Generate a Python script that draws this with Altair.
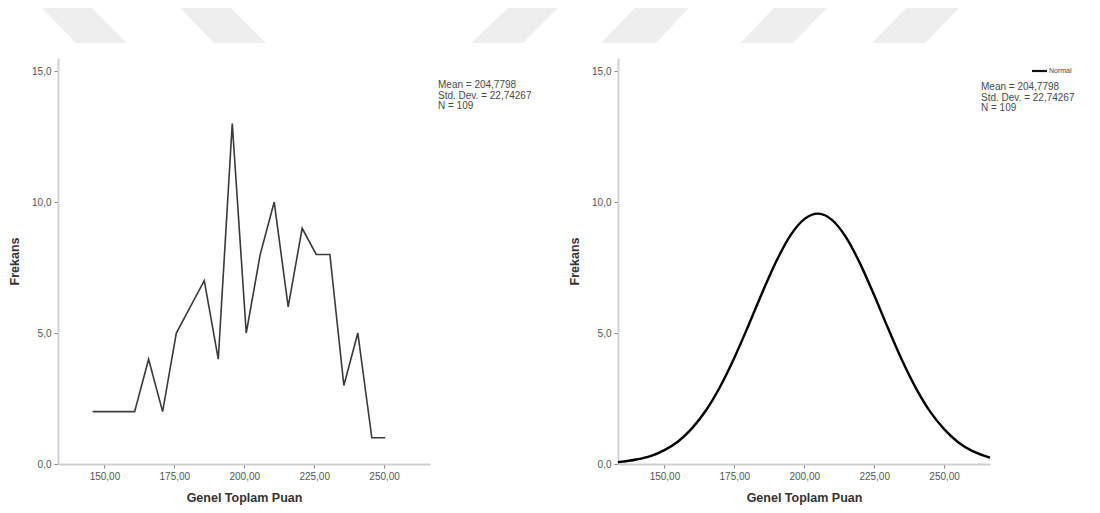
import altair as alt
import pandas as pd

# ---- data ----
score_points = [145.8, 150.8, 155.8, 160.8, 165.8, 170.8, 175.7, 180.7, 185.7, 190.7, 195.7,
                200.7, 205.7, 210.7, 215.7, 220.7, 225.7, 230.6, 235.6, 240.6, 245.6, 250.4]
frequencies = [2, 2, 2, 2, 4, 2, 5, 6, 7, 4, 13, 5, 8, 10, 6, 9, 8, 8, 3, 5, 1, 1]

curve_x = [133.4, 140, 145, 150, 155, 160, 165, 170, 175, 180, 185, 190, 195, 200, 205,
           210, 215, 220, 225, 230, 235, 240, 245, 250, 255, 260, 265, 266.4]
curve_y = [0.07, 0.17, 0.30, 0.53, 0.87, 1.38, 2.07, 2.97, 4.06, 5.28, 6.55, 7.74, 8.72, 9.35, 9.56,
           9.31, 8.64, 7.64, 6.44, 5.17, 3.95, 2.88, 2.00, 1.33, 0.83, 0.50, 0.29, 0.24]

x_ticks = [150, 175, 200, 225, 250]
y_ticks = [0, 5, 10, 15]
stats_text = ["Mean = 204,7798", "Std. Dev. = 22,74267", "N = 109"]
x_title = "Genel Toplam Puan"
y_title = "Frekans"
legend_label = "Normal"

# decorative watermark parallelograms (pixel offsets from the left panel's plot origin)
wm_shape = [1, 1, 2, 2, 3, 3, 4, 4, 5, 5, 6, 6]
wm_py = [-50, -15, -50, -15, -50, -15, -50, -15, -50, -15, -50, -15]
wm_xa = [-16, 18, 122, 156, 450, 413, 577, 543, 716, 682, 848, 814]
wm_xb = [34, 69, 173, 208, 500, 465, 631, 598, 769, 735, 901, 867]

FONT = "Liberation Sans"
X_DOMAIN = [133.4, 266.4]
Y_DOMAIN = [0, 15.5]
W, H = 372, 406

x_enc = alt.X("x:Q", scale=alt.Scale(domain=X_DOMAIN, nice=False, zero=False),
              axis=alt.Axis(values=x_ticks, title=x_title,
                            labelExpr="replace(format(datum.value, '.2f'), '.', ',')"))
y_enc = alt.Y("y:Q", scale=alt.Scale(domain=Y_DOMAIN, nice=False),
              axis=alt.Axis(values=y_ticks, title=y_title,
                            labelExpr="replace(format(datum.value, '.1f'), '.', ',')"))

hist_df = pd.DataFrame({"x": score_points, "y": frequencies})
curve_df = pd.DataFrame({"x": curve_x, "y": curve_y})
wm_df = pd.DataFrame({"shape": wm_shape, "py": wm_py, "xa": wm_xa, "xb": wm_xb})
text_df = pd.DataFrame({"t": ["\n".join(stats_text)]})
legend_df = pd.DataFrame({"t": [legend_label]})

watermark = alt.Chart(wm_df).mark_area(orient="horizontal", color="#eeeeee", clip=False).encode(
    y=alt.Y("py:Q", scale=None, axis=None),
    x=alt.X("xa:Q", scale=None, axis=None),
    x2="xb:Q",
    detail="shape:N",
)

freq_line = alt.Chart(hist_df).mark_line(color="#3a3a3a", strokeWidth=1.6).encode(x=x_enc, y=y_enc)

stats_left = alt.Chart(text_df).mark_text(
    align="left", baseline="top", font=FONT, fontSize=10, lineHeight=10.5, fill="#4a4a4a",
    lineBreak="\n").encode(x=alt.value(380), y=alt.value(22), text="t:N")

left = alt.layer(watermark, freq_line, stats_left).resolve_scale(
    x="independent", y="independent").properties(width=W, height=H)

normal_curve = alt.Chart(curve_df).mark_line(color="#000000", strokeWidth=2.4,
                                              interpolate="monotone").encode(x=x_enc, y=y_enc)

stats_right = alt.Chart(text_df).mark_text(
    align="left", baseline="top", font=FONT, fontSize=10, lineHeight=10.5, fill="#4a4a4a",
    lineBreak="\n").encode(x=alt.value(363), y=alt.value(24), text="t:N")

legend_rule = alt.Chart(legend_df).mark_rule(color="#111111", strokeWidth=2.2).encode(
    x=alt.value(414), x2=alt.value(429), y=alt.value(13))
legend_text = alt.Chart(legend_df).mark_text(
    align="left", baseline="middle", font=FONT, fontSize=7, fill="#444444").encode(
    x=alt.value(431), y=alt.value(13), text="t:N")

right = alt.layer(normal_curve, stats_right, legend_rule, legend_text).properties(width=W, height=H)

chart = alt.hconcat(left, right, spacing=188, bounds="flush").properties(
    padding={"left": 0, "top": 0, "right": 5, "bottom": 5}
).configure_view(stroke=None).configure_axis(
    grid=False,
    domainColor="#cfcfcf", domainWidth=2,
    tickColor="#8a8a8a", tickSize=4, tickWidth=1,
    labelFont=FONT, labelFontSize=10, labelColor="#555555", labelPadding=3,
    titleFont=FONT, titleFontSize=12.5, titleFontWeight="bold", titleColor="#333333",
).configure_axisX(titlePadding=10).configure_axisY(titlePadding=10)

chart.save("out.html", embed_options={"renderer": "svg", "actions": False})
